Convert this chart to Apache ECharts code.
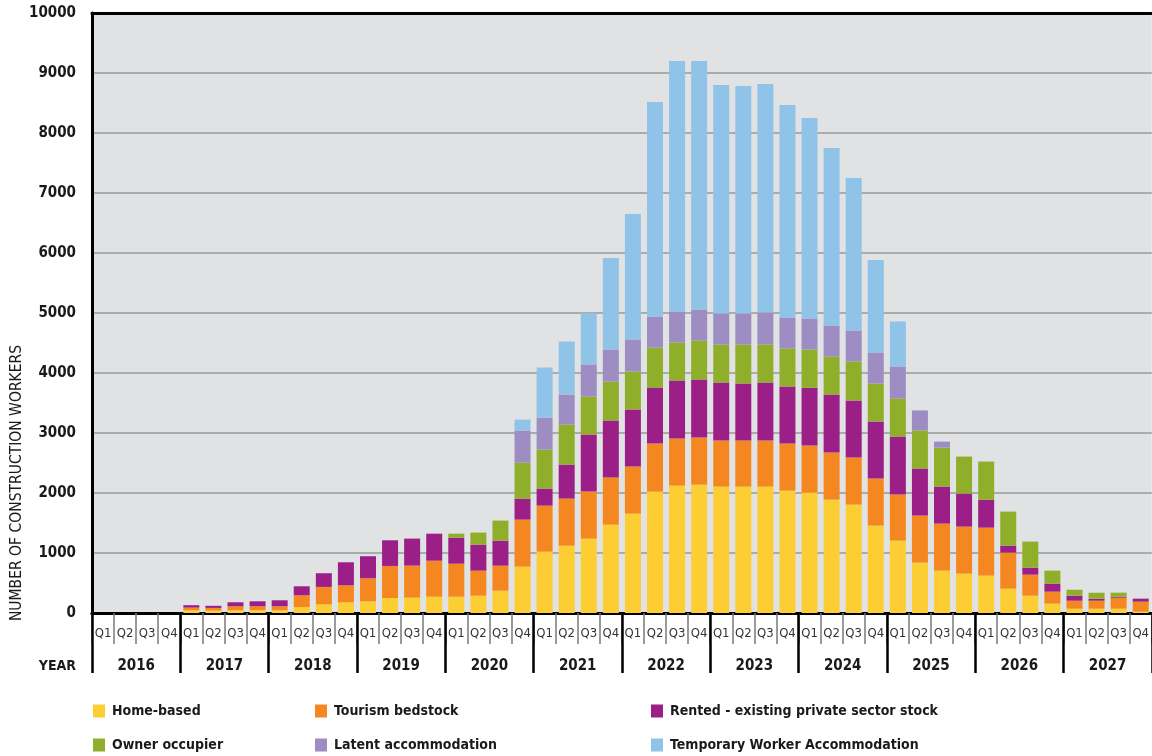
<!DOCTYPE html>
<html>
<head>
<meta charset="utf-8">
<script src="https://cdn.jsdelivr.net/npm/echarts@6/dist/echarts.min.js"></script>
<style>
  html, body { margin: 0; padding: 0; background: #fff; }
  #chart { width: 1152px; height: 756px; }
</style>
</head>
<body>
<div id="chart"></div>
<script>
// quarters 2016 Q1 .. 2027 Q4
var years = ['2016', '2017', '2018', '2019', '2020', '2021', '2022', '2023', '2024', '2025', '2026', '2027']
var quarters = []
years.forEach(function(y) { ['Q1', 'Q2', 'Q3', 'Q4'].forEach(function(q) { quarters.push(y + ' ' + q) }) })

var homeBased = [0, 0, 0, 0, 45, 40, 45, 45, 45, 100, 145, 178, 195, 250, 256, 272,
  272, 289, 372, 773, 1023, 1123, 1240, 1473, 1657, 2023, 2123, 2140, 2107, 2107, 2107, 2040,
  2007, 1890, 1807, 1457, 1207, 840, 706, 656, 623, 406, 289, 156, 72, 72, 72, 22]
var tourism = [0, 0, 0, 0, 45, 45, 67, 67, 67, 195, 290, 283, 384, 534, 534, 600,
  550, 417, 417, 784, 767, 784, 784, 784, 784, 800, 784, 784, 767, 767, 767, 784,
  784, 784, 784, 784, 767, 784, 784, 784, 800, 600, 350, 200, 133, 133, 183, 167]
var rented = [0, 0, 0, 0, 40, 35, 67, 83, 100, 150, 228, 384, 367, 428, 450, 450,
  434, 434, 417, 350, 284, 567, 951, 951, 951, 934, 967, 967, 967, 951, 967, 951,
  962, 967, 951, 951, 967, 784, 617, 550, 467, 117, 117, 133, 83, 33, 17, 50]
var owner = [0, 0, 0, 0, 0, 0, 0, 0, 0, 0, 0, 0, 0, 0, 0, 0,
  67, 200, 334, 600, 650, 667, 634, 650, 634, 667, 634, 650, 634, 650, 634, 634,
  639, 634, 650, 634, 634, 634, 650, 617, 634, 567, 434, 217, 100, 100, 67, 0]
var latent = [0, 0, 0, 0, 0, 0, 0, 0, 0, 0, 0, 0, 0, 0, 0, 0,
  0, 0, 0, 534, 534, 500, 534, 534, 534, 517, 517, 517, 517, 517, 534, 517,
  517, 517, 517, 517, 534, 334, 100, 0, 0, 0, 0, 0, 0, 0, 0, 0]
var temporary = [0, 0, 0, 0, 0, 0, 0, 0, 0, 0, 0, 0, 0, 0, 0, 0,
  0, 0, 0, 183, 834, 884, 851, 1525, 2090, 3576, 4175, 4142, 3808, 3791, 3808, 3541,
  3341, 2958, 2541, 1540, 751, 0, 0, 0, 0, 0, 0, 0, 0, 0, 0, 0]

var seriesNames = ['Home-based', 'Tourism bedstock', 'Rented - existing private sector stock',
  'Owner occupier', 'Latent accommodation', 'Temporary Worker Accommodation']
var seriesData = [homeBased, tourism, rented, owner, latent, temporary]
var colors = ['#FDCD34', '#F58720', '#9B1F87', '#8FAF2B', '#9D8DC3', '#8FC3E8']

var font = 'DejaVu Sans Condensed'
var chart = echarts.init(document.getElementById('chart'))

// legend positions (two rows, three columns)
var legendPos = [[93, 704], [315, 704], [651, 704], [93, 738], [315, 738], [651, 738]]
var legends = seriesNames.map(function(n, i) {
  return {
    left: legendPos[i][0],
    top: legendPos[i][1],
    padding: 0,
    icon: 'rect',
    itemWidth: 12,
    itemHeight: 13,
    itemGap: 0,
    selectedMode: false,
    data: [n],
    textStyle: { fontFamily: font, fontWeight: 'bold', fontSize: 14, color: '#1a1a1a', padding: [0, 0, 0, 2] }
  }
})

chart.setOption({
  animation: false,
  color: colors,
  legend: legends,
  grid: {
    left: 92,
    top: 13,
    width: 1063,
    height: 600,
    show: true,
    backgroundColor: '#E1E2E4',
    borderWidth: 0
  },
  graphic: [
    {
      type: 'text',
      x: 17,
      y: 483,
      rotation: Math.PI / 2,
      style: {
        text: 'NUMBER OF CONSTRUCTION WORKERS',
        font: '15.5px "' + font + '"',
        fill: '#1a1a1a',
        align: 'center',
        verticalAlign: 'middle'
      }
    },
    {
      type: 'text',
      x: 76,
      y: 666,
      style: {
        text: 'YEAR',
        font: 'bold 14px "' + font + '"',
        fill: '#1a1a1a',
        align: 'right',
        verticalAlign: 'middle'
      }
    }
  ],
  xAxis: [
    {
      type: 'category',
      position: 'bottom',
      data: quarters,
      boundaryGap: true,
      axisLine: { lineStyle: { color: '#000', width: 3 } },
      axisTick: { show: true, interval: 0, length: 31, lineStyle: { color: '#7a7a7a', width: 1.5 } },
      axisLabel: {
        interval: 0,
        margin: 14,
        fontFamily: font,
        fontSize: 13,
        color: '#333',
        formatter: function(v) { return v.split(' ')[1] }
      }
    },
    {
      type: 'category',
      position: 'bottom',
      data: years,
      boundaryGap: true,
      axisLine: { lineStyle: { color: '#000', width: 3 } },
      axisTick: { show: true, interval: 0, length: 60, lineStyle: { color: '#000', width: 2.5 } },
      axisLabel: { interval: 0, margin: 46, fontFamily: font, fontSize: 15, fontWeight: 'bold', color: '#1a1a1a' }
    },
    {
      type: 'category',
      position: 'top',
      data: years,
      axisLine: { lineStyle: { color: '#000', width: 3 } },
      axisTick: { show: false },
      axisLabel: { show: false }
    }
  ],
  yAxis: {
    type: 'value',
    min: 0,
    max: 10000,
    interval: 1000,
    axisLine: { show: true, lineStyle: { color: '#000', width: 3 } },
    axisTick: { show: false },
    axisLabel: {
      margin: 16,
      fontFamily: font,
      fontSize: 15,
      fontWeight: 'bold',
      color: '#1a1a1a',
      formatter: function(v) { return String(v) }
    },
    splitLine: { lineStyle: { color: '#ABABAB', width: 2 } }
  },
  series: seriesNames.map(function(n, i) {
    return {
      name: n,
      type: 'bar',
      stack: 'total',
      xAxisIndex: 0,
      barWidth: 16,
      data: seriesData[i],
      itemStyle: { color: colors[i] }
    }
  })
})
</script>
</body>
</html>
